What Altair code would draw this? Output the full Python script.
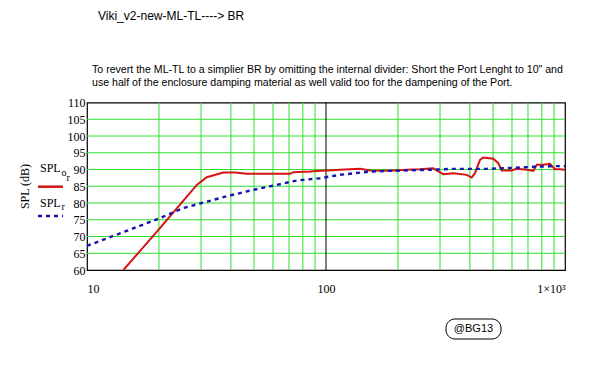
import altair as alt
import pandas as pd

# ---- data ----
red_f = [14.2, 16.4, 19.9, 24.5, 28.8, 31.7, 37.2, 41.6, 46.6, 70.6, 73, 85.8, 94.5, 102, 114,
         139, 153, 185, 218, 247, 281, 295, 310, 341, 388, 407, 420, 441, 455, 501, 526, 543,
         598, 628, 691, 737, 762, 811, 865, 908, 953, 1000]
red_spl = [60, 65.1, 72.0, 79.5, 85.4, 87.7, 89.1, 89.1, 88.7, 88.7, 89.2, 89.4, 89.6, 89.7, 89.9,
           90.2, 89.7, 89.6, 89.9, 90.1, 90.4, 89.4, 88.6, 88.9, 88.4, 87.6, 88.9, 92.9, 93.6, 93.2,
           91.9, 89.7, 89.7, 90.2, 89.9, 89.6, 91.4, 91.4, 91.7, 90.1, 90.1, 89.9]

blue_f = [10, 12.9, 16.4, 20.2, 25.3, 30.2, 38.4, 48.1, 60.3, 75.4, 94.4, 114, 153, 185, 270,
          341, 469, 605, 737, 890, 1000]
blue_spl = [67.2, 70.2, 73.0, 75.5, 78.5, 80.0, 82.0, 83.7, 85.2, 86.7, 87.4, 88.4, 89.4, 89.6,
            89.9, 90.2, 90.2, 90.5, 90.8, 91.0, 91.0]

x_grid = [20, 30, 40, 50, 60, 70, 80, 90, 200, 300, 400, 500, 600, 700, 800, 900]
y_grid = [65, 70, 75, 80, 85, 90, 95, 100, 105]
x_ticks = [10, 100, 1000]
y_ticks = [60, 65, 70, 75, 80, 85, 90, 95, 100, 105, 110]

title_txt = "Viki_v2-new-ML-TL----> BR"
sub1 = 'To revert the ML-TL to a simplier BR by omitting the internal divider: Short the Port Lenght to 10" and'
sub2 = "use half of the enclosure damping material as well valid too for the dampening of the Port."

W, H = 478, 167.5
GREEN = "#2ee02e"
RED = "#d41414"
BLUE = "#1414b4"
SERIF = "Liberation Serif"
SANS = "Liberation Sans"

xscale = alt.Scale(type="log", domain=[10, 1000], nice=False, zero=False)
yscale = alt.Scale(domain=[60, 110], nice=False, zero=False)

xaxis = alt.Axis(values=x_ticks, grid=False, ticks=False, tickSize=0, domain=False, title=None,
                 labelFont=SERIF, labelFontSize=12, labelColor="black", labelPadding=13,
                 labelExpr="datum.value == 1000 ? '1\u00d710\u00b3' : (datum.value == 100 ? '100' : '10')")
yaxis = alt.Axis(values=y_ticks, grid=False, ticks=False, tickSize=0, domain=False, title=None,
                 labelFont=SERIF, labelFontSize=12, labelColor="black", labelPadding=2)

red_df = pd.DataFrame({"f": red_f, "spl": red_spl})
blue_df = pd.DataFrame({"f": blue_f, "spl": blue_spl})

gx = alt.Chart(pd.DataFrame({"f": x_grid})).mark_rule(color=GREEN, strokeWidth=1).encode(
    x=alt.X("f:Q", scale=xscale, axis=xaxis))
gy = alt.Chart(pd.DataFrame({"spl": y_grid})).mark_rule(color=GREEN, strokeWidth=1).encode(
    y=alt.Y("spl:Q", scale=yscale, axis=yaxis))
g100 = alt.Chart(pd.DataFrame({"f": [100]})).mark_rule(color="black", strokeWidth=1).encode(
    x=alt.X("f:Q", scale=xscale, axis=xaxis))

red = alt.Chart(red_df).mark_line(color=RED, strokeWidth=2, clip=True).encode(
    x=alt.X("f:Q", scale=xscale, axis=xaxis),
    y=alt.Y("spl:Q", scale=yscale, axis=yaxis),
    order="f:Q")
blue = alt.Chart(blue_df).mark_line(color=BLUE, strokeWidth=2.4, strokeDash=[4, 4], clip=True).encode(
    x=alt.X("f:Q", scale=xscale, axis=xaxis),
    y=alt.Y("spl:Q", scale=yscale, axis=yaxis),
    order="f:Q")

one = alt.Data(values=[{}])


def txt(t, x, y, font=SANS, size=11, align="left", baseline="alphabetic", angle=0):
    kw = dict(text=t, font=font, fontSize=size, align=align, baseline=baseline, color="black")
    if angle:
        kw["angle"] = angle
    return alt.Chart(one).mark_text(**kw).encode(x=alt.value(x), y=alt.value(y))


texts = [
    txt(title_txt, 11, -83, size=12),
    txt(sub1, 5, -30, size=10.6),
    txt(sub2, 5, -16.5, size=10.6),
    txt("SPL (dB)", -62, 84, font=SERIF, size=12, align="center", baseline="middle", angle=270),
    txt("SPL", -47, 69, font=SERIF, size=12),
    txt("o", -25.5, 73.5, font=SERIF, size=10),
    txt("r", -20.5, 78.5, font=SERIF, size=10),
    txt("SPL", -47, 104, font=SERIF, size=12),
    txt("r", -25.5, 107.5, font=SERIF, size=10),
]

leg_red = alt.Chart(one).mark_rule(color=RED, strokeWidth=2.5).encode(
    x=alt.value(-49), x2=alt.value(-24), y=alt.value(84.2))
leg_blue = alt.Chart(one).mark_rule(color=BLUE, strokeWidth=2.4, strokeDash=[4, 4]).encode(
    x=alt.value(-49), x2=alt.value(-24), y=alt.value(113.5))

box = alt.Chart(one).mark_rect(fill="white", stroke="black", strokeWidth=1, cornerRadius=9).encode(
    x=alt.value(359), x2=alt.value(414), y=alt.value(216.5), y2=alt.value(236.5))
box_txt = txt("@BG13", 386.5, 226.5, size=11, align="center", baseline="middle")

chart = alt.layer(gx, gy, g100, red, blue, leg_red, leg_blue, box, box_txt, *texts).properties(
    width=W, height=H,
    autosize=alt.AutoSizeParams(type="none"),
    padding={"left": 79, "top": 94.5, "right": 10, "bottom": 80},
    background="white",
).configure_view(stroke="black", strokeWidth=1.2)

chart.save("out.html", embed_options={"renderer": "svg", "actions": False})
